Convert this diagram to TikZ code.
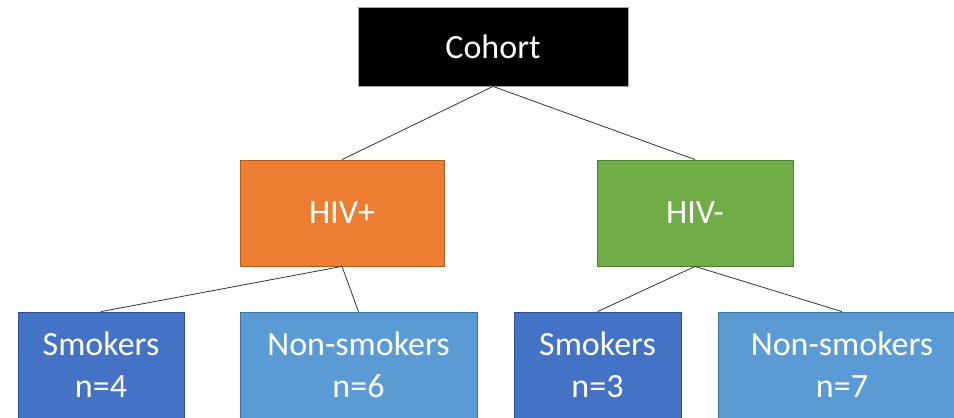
\documentclass[tikz,border=0pt]{standalone}
\usepackage{fontspec}
\setmainfont{Carlito}
\definecolor{orangeF}{HTML}{ED7D31}
\definecolor{orangeD}{HTML}{AE5A21}
\definecolor{greenF}{HTML}{70AD47}
\definecolor{greenD}{HTML}{507E32}
\definecolor{blueF}{HTML}{4472C4}
\definecolor{blueD}{HTML}{2F528F}
\definecolor{lblueF}{HTML}{5B9BD5}
\definecolor{lblueD}{HTML}{41719C}
\begin{document}
\begin{tikzpicture}[x=1pt,y=1pt,
  box/.style={rectangle, inner sep=0pt, line width=0.8pt, text=white, align=center,
    font=\fontsize{34}{42}\selectfont},
  conn/.style={draw=black!80, line width=0.8pt}]
\useasboundingbox (0,0) rectangle (954,-418);
\clip (0,0) rectangle (954,-418);
\node[box, fill=black, draw=gray!70, minimum width=270, minimum height=79] (cohort) at (493,-46.5) {Cohort};
\node[box, fill=orangeF, draw=orangeD, minimum width=204, minimum height=106] (hivp) at (342,-213) {HIV+};
\node[box, fill=greenF, draw=greenD, minimum width=196, minimum height=106] (hivn) at (695,-213) {HIV-};
\node[box, fill=blueF, draw=blueD, minimum width=166, minimum height=106] (s1) at (101,-365) {Smokers\\n=4};
\node[box, fill=lblueF, draw=lblueD, minimum width=237, minimum height=106] (ns1) at (358.5,-365) {Non-smokers\\n=6};
\node[box, fill=blueF, draw=blueD, minimum width=167, minimum height=106] (s2) at (597.5,-365) {Smokers\\n=3};
\node[box, fill=lblueF, draw=lblueD, minimum width=248, minimum height=106] (ns2) at (842,-365) {Non-smokers\\n=7};
\draw[conn] (cohort.south) -- (hivp.north);
\draw[conn] (cohort.south) -- (hivn.north);
\draw[conn] (hivp.south) -- (s1.north);
\draw[conn] (hivp.south) -- (ns1.north);
\draw[conn] (hivn.south) -- (s2.north);
\draw[conn] (hivn.south) -- (ns2.north);
\end{tikzpicture}
\end{document}
